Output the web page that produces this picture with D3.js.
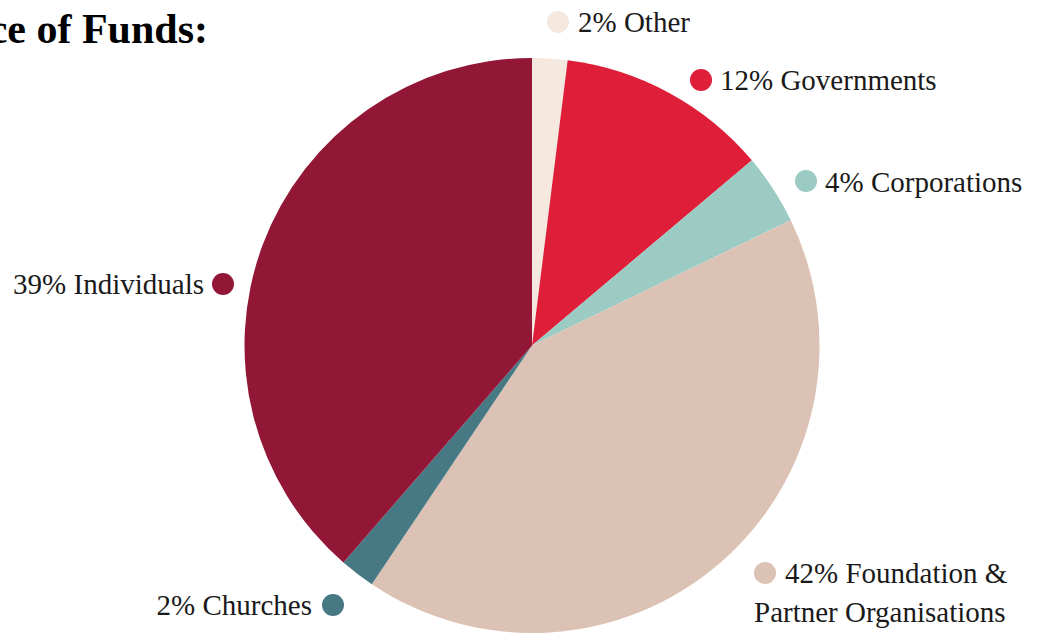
<!DOCTYPE html>
<html><head><meta charset="utf-8">
<script src="https://cdn.jsdelivr.net/npm/d3@7"></script>
<style>html,body{margin:0;padding:0;background:#fff;overflow:hidden}</style>
</head><body>
<svg id="c" width="1037" height="633"></svg>
<script>
const categories = ["Other","Governments","Corporations","Foundation & Partner Organisations","Churches","Individuals"];
const values = [2,12,4,42,2,39];
const colors = ["#f4e8df","#df1f39","#9bcbc3","#dcc2b5","#477985","#921635"];
const labelLines = [["2% Other"],["12% Governments"],["4% Corporations"],["42% Foundation &","Partner Organisations"],["2% Churches"],["39% Individuals"]];

// layout (not data)
const layout = [
  {dot:[558,22], side:"right", lines:[[578,32]]},
  {dot:[701,80], side:"right", lines:[[720,90]]},
  {dot:[806,181], side:"right", lines:[[825,192]]},
  {dot:[765,573], side:"right", lines:[[785,583],[754,622]]},
  {dot:[333,605], side:"left", lines:[[312,615]]},
  {dot:[223,284], side:"left", lines:[[204,294]]}
];

const svg = d3.select("#c");
const cx = 532, cy = 345.5, R = 287.5;
const pie = d3.pie().sort(null).value(d=>d);
const arc = d3.arc().innerRadius(0).outerRadius(R);
const g = svg.append("g").attr("transform",`translate(${cx},${cy})`);
g.selectAll("path").data(pie(values)).join("path")
  .attr("d", arc).attr("fill",(d,i)=>colors[i]);

svg.append("text").attr("x",208).attr("y",43).attr("text-anchor","end")
  .attr("font-family","'Liberation Serif','Times New Roman',serif")
  .attr("font-weight","bold").attr("font-size",42).attr("fill","#000")
  .text("Source of Funds:");

categories.forEach((c,i)=>{
  const L = layout[i];
  svg.append("circle").attr("cx",L.dot[0]).attr("cy",L.dot[1]).attr("r",11).attr("fill",colors[i]);
  labelLines[i].forEach((t,j)=>{
    svg.append("text").attr("x",L.lines[j][0]).attr("y",L.lines[j][1])
      .attr("text-anchor", L.side==="left"?"end":"start")
      .attr("font-family","'Liberation Serif','Times New Roman',serif")
      .attr("font-size",29).attr("fill","#1a1a1a").text(t);
  });
});
</script>
</body></html>
